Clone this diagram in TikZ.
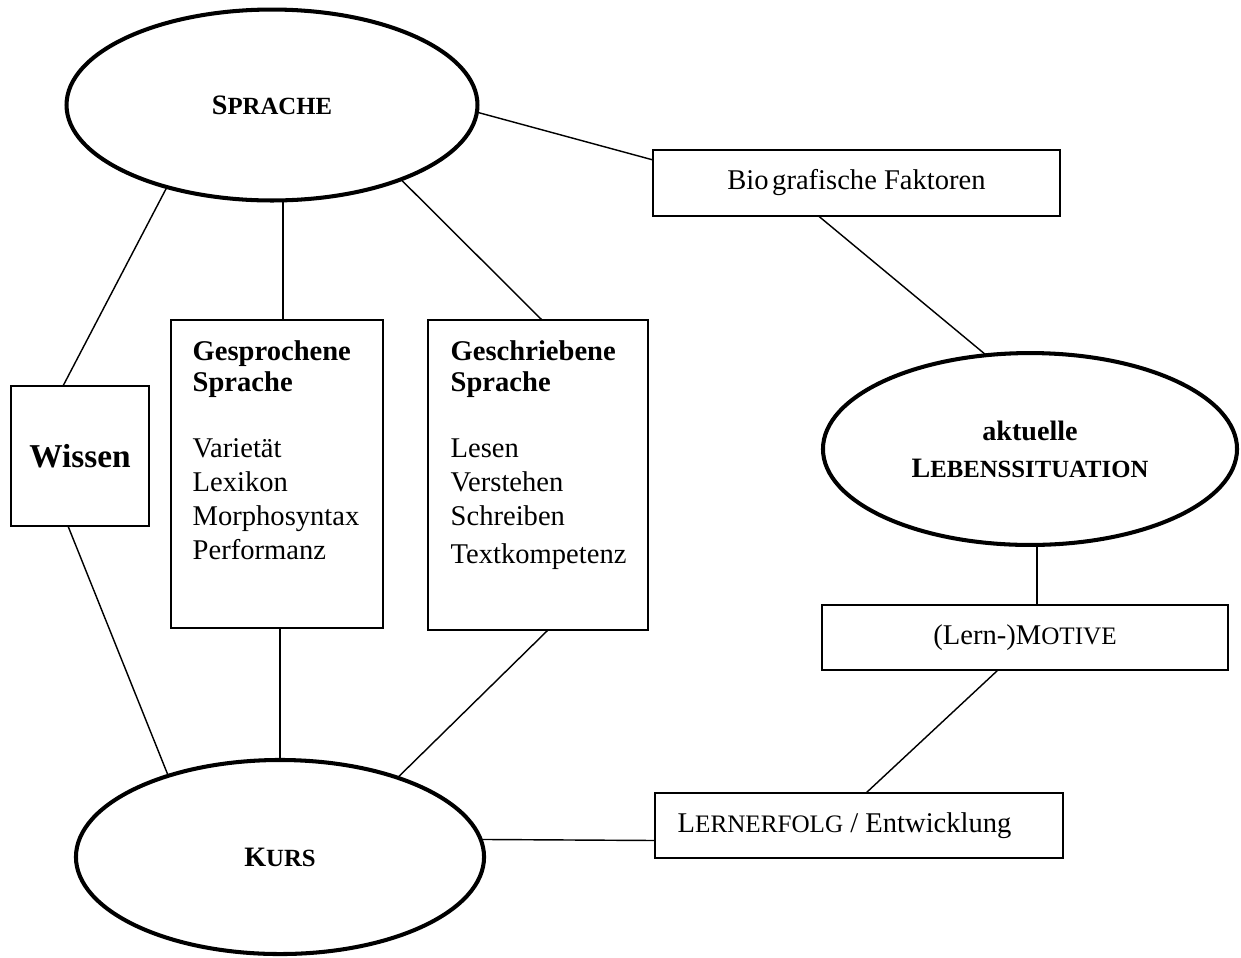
\documentclass[tikz,border=0pt]{standalone}
\usepackage{fontspec}
\setmainfont{Liberation Serif}
\usepackage{graphicx}
\usetikzlibrary{shapes.geometric,calc,positioning}
\newcommand{\kap}[1]{\scalebox{0.88}{#1}}

\begin{document}
\begin{tikzpicture}[x=0.42pt,y=-0.42pt,line width=0.6pt,
                        font=\fontsize{12}{14.3}\selectfont,
                        oval/.style={ellipse,draw,line width=1.7pt,inner sep=0pt,outer sep=0pt,
                            align=center,font=\fontsize{11.8}{15.5}\selectfont\bfseries},
                        kasten/.style={rectangle,draw,line width=0.85pt,inner sep=0pt,outer sep=0pt},
                        liste/.style={anchor=north west,inner sep=0pt,align=left}]
                        \useasboundingbox (0,0) rectangle (1241,957);

                        \node[oval,minimum width=172.6pt,minimum height=80.2pt] (sprache) at (272,105) {S\kap{PRACHE}};
                        \node[oval,minimum width=171.4pt,minimum height=81.5pt] (kurs) at (280,857) {K\kap{URS}};
                        \node[oval,minimum width=173.9pt,minimum height=80.6pt] (leben) at (1030,449) {aktuelle\\L\kap{EBENSSITUATION}};

                        \node[kasten,minimum width=58pt,minimum height=58.8pt,font=\fontsize{14}{16}\selectfont\bfseries] (wissen) at (80,456) {Wissen};
                        \node[kasten,minimum width=89pt,minimum height=129.4pt] (gesp) at (277,474) {};
                        \node[kasten,minimum width=92.4pt,minimum height=130.2pt] (gesch) at (538,475) {};
                        \node[liste] (gesptext) at (192,340) {\textbf{Gesprochene}\\[-1.2pt]\textbf{Sprache}\\[13.4pt]Varietät\\Lexikon\\Morphosyntax\\Performanz};
                        \node[liste] (geschtext) at (450,340) {\textbf{Geschriebene}\\[-1.2pt]\textbf{Sprache}\\[13.4pt]Lesen\\Verstehen\\Schreiben\\[1.5pt]Textkompetenz};

                        \node[kasten,minimum width=171pt,minimum height=27.7pt] (bio) at (856.5,183) {Bio\kern1.5pt grafische Faktoren};
                        \node[kasten,minimum width=170.5pt,minimum height=27.3pt] (motiv) at (1025,637.5) {(Lern-)M\kap{OTIVE}};
                        \node[kasten,minimum width=171.4pt,minimum height=27.3pt] (lern) at (859,825.5) {};
                        \node[anchor=west,inner sep=0pt] (lerntext) at (677,825.5) {L\kap{ERNERFOLG} / Entwicklung};

                        \coordinate (gspN) at ($(gesp.north)+(6,0)$);
                        \coordinate (gspS) at ($(gesp.south)+(3,0)$);
                        \coordinate (motN) at ($(motiv.north)+(12,0)$);

                        \draw (sprache.-2.5) -- ($(bio.north west)!0.15!(bio.south west)$);
                        \draw (sprache.218) -- ($(wissen.north)+(-17,0)$);
                        \draw (gspN) -- (gspN |- sprache.south);
                        \draw (sprache.-30) -- ($(gesch.north)+(4,0)$);
                        \draw ($(wissen.south)+(-12,0)$) -- (kurs.144);
                        \draw (gspS) -- (gspS |- kurs.north);
                        \draw ($(gesch.south)+(10,0)$) -- (kurs.34);
                        \draw ($(lern.west)+(0,15)$) -- (kurs.5);
                        \draw ($(bio.south)+(-38,0)$) -- (leben.115);
                        \draw (motN) -- (motN |- leben.south);
                        \draw ($(motiv.south)+(-27,0)$) -- ($(lern.north)+(7,0)$);
                    \end{tikzpicture}
\end{document}
